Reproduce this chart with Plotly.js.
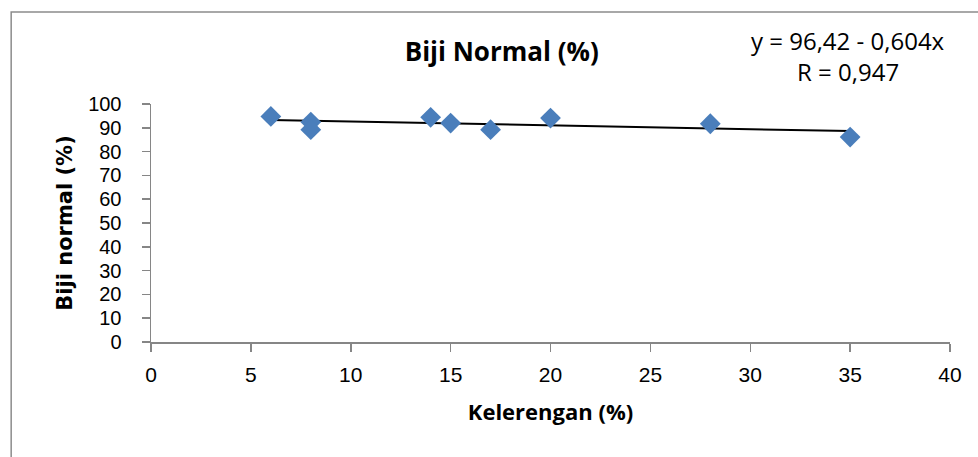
<!DOCTYPE html>
<html>
<head>
<meta charset="utf-8">
<script src="https://cdn.plot.ly/plotly-3.0.1.min.js"></script>
<style>html,body{margin:0;padding:0;background:#fff;}#chart{width:978px;height:457px;}</style>
</head>
<body>
<div id="chart"></div>
<script>
const kelerengan = [6, 8, 8, 14, 15, 17, 20, 28, 35];
const bijiNormal = [94.8, 92.4, 89.2, 94.4, 92.0, 89.2, 94.1, 91.7, 86.1];
const chartTitle = "Biji Normal (%)";
const xTitle = "Kelerengan (%)";
const yTitle = "Biji normal (%)";
const eqLine1 = "y = 96,42 - 0,604x";
const eqLine2 = "R = 0,947";

// least-squares linear trend line (as drawn by the spreadsheet)
const n = kelerengan.length;
const mx = kelerengan.reduce((a, b) => a + b, 0) / n;
const my = bijiNormal.reduce((a, b) => a + b, 0) / n;
let sxy = 0, sxx = 0;
for (let i = 0; i < n; i++) { sxy += (kelerengan[i] - mx) * (bijiNormal[i] - my); sxx += (kelerengan[i] - mx) ** 2; }
const slope = sxy / sxx, intercept = my - slope * mx;
const xMin = Math.min(...kelerengan), xMax = Math.max(...kelerengan);
const trendX = [xMin, xMax];
const trendY = trendX.map(x => intercept + slope * x);

const font = "Open Sans, sans-serif";
const tickFontFamily = "Liberation Sans, Arial, sans-serif";
const axisColor = "#868686";

const data = [
  {x: trendX, y: trendY, mode: "lines", line: {color: "#000", width: 2}, hoverinfo: "skip", showlegend: false},
  {x: kelerengan, y: bijiNormal, mode: "markers", type: "scatter",
   marker: {symbol: "diamond", size: 16, color: "#4a7ebb"}, showlegend: false}
];

const layout = {
  width: 978, height: 457,
  margin: {l: 151, r: 28, t: 104, b: 115, pad: 0},
  paper_bgcolor: "#fff", plot_bgcolor: "#fff",
  font: {family: font, color: "#000", size: 20},
  title: {text: "<b>" + chartTitle + "</b>", font: {family: font, size: 26, color: "#000"},
          x: 0.513, xanchor: "center", y: 0.886, yanchor: "middle"},
  xaxis: {range: [0, 40], dtick: 5, tick0: 0, showgrid: false, zeroline: false,
          showline: true, linecolor: axisColor, linewidth: 1.5, ticks: "outside", ticklen: 8, tickcolor: axisColor, tickwidth: 1.5,
          tickfont: {family: tickFontFamily, size: 21}, ticklabelstandoff: 5,
          title: {text: "<b>" + xTitle + "</b>", font: {family: font, size: 22}, standoff: 20}},
  yaxis: {range: [0, 100], dtick: 10, tick0: 0, showgrid: false, zeroline: false,
          showline: true, linecolor: axisColor, linewidth: 1.5, ticks: "outside", ticklen: 8, tickcolor: axisColor, tickwidth: 1.5,
          tickfont: {family: tickFontFamily, size: 20}, ticklabelstandoff: 16,
          title: {text: "<b>" + yTitle + "</b>", font: {family: "DejaVu Sans, sans-serif", size: 21}, standoff: 10}},
  shapes: [
    {type: "rect", xref: "paper", yref: "paper", x0: -0.175, x1: 1.06, y0: -0.6, y1: 1.3866,
     line: {color: "#8c8c8c", width: 1.5}, fillcolor: "rgba(0,0,0,0)", layer: "below"}
  ],
  annotations: [
    {xref: "paper", yref: "paper", x: 0.872, y: 1.266, text: eqLine1, showarrow: false,
     font: {family: font, size: 24, color: "#000"}, xanchor: "center", yanchor: "middle"},
    {xref: "paper", yref: "paper", x: 0.872, y: 1.136, text: eqLine2, showarrow: false,
     font: {family: font, size: 24, color: "#000"}, xanchor: "center", yanchor: "middle"}
  ]
};

Plotly.newPlot("chart", data, layout, {displayModeBar: false, staticPlot: true});
</script>
</body>
</html>
